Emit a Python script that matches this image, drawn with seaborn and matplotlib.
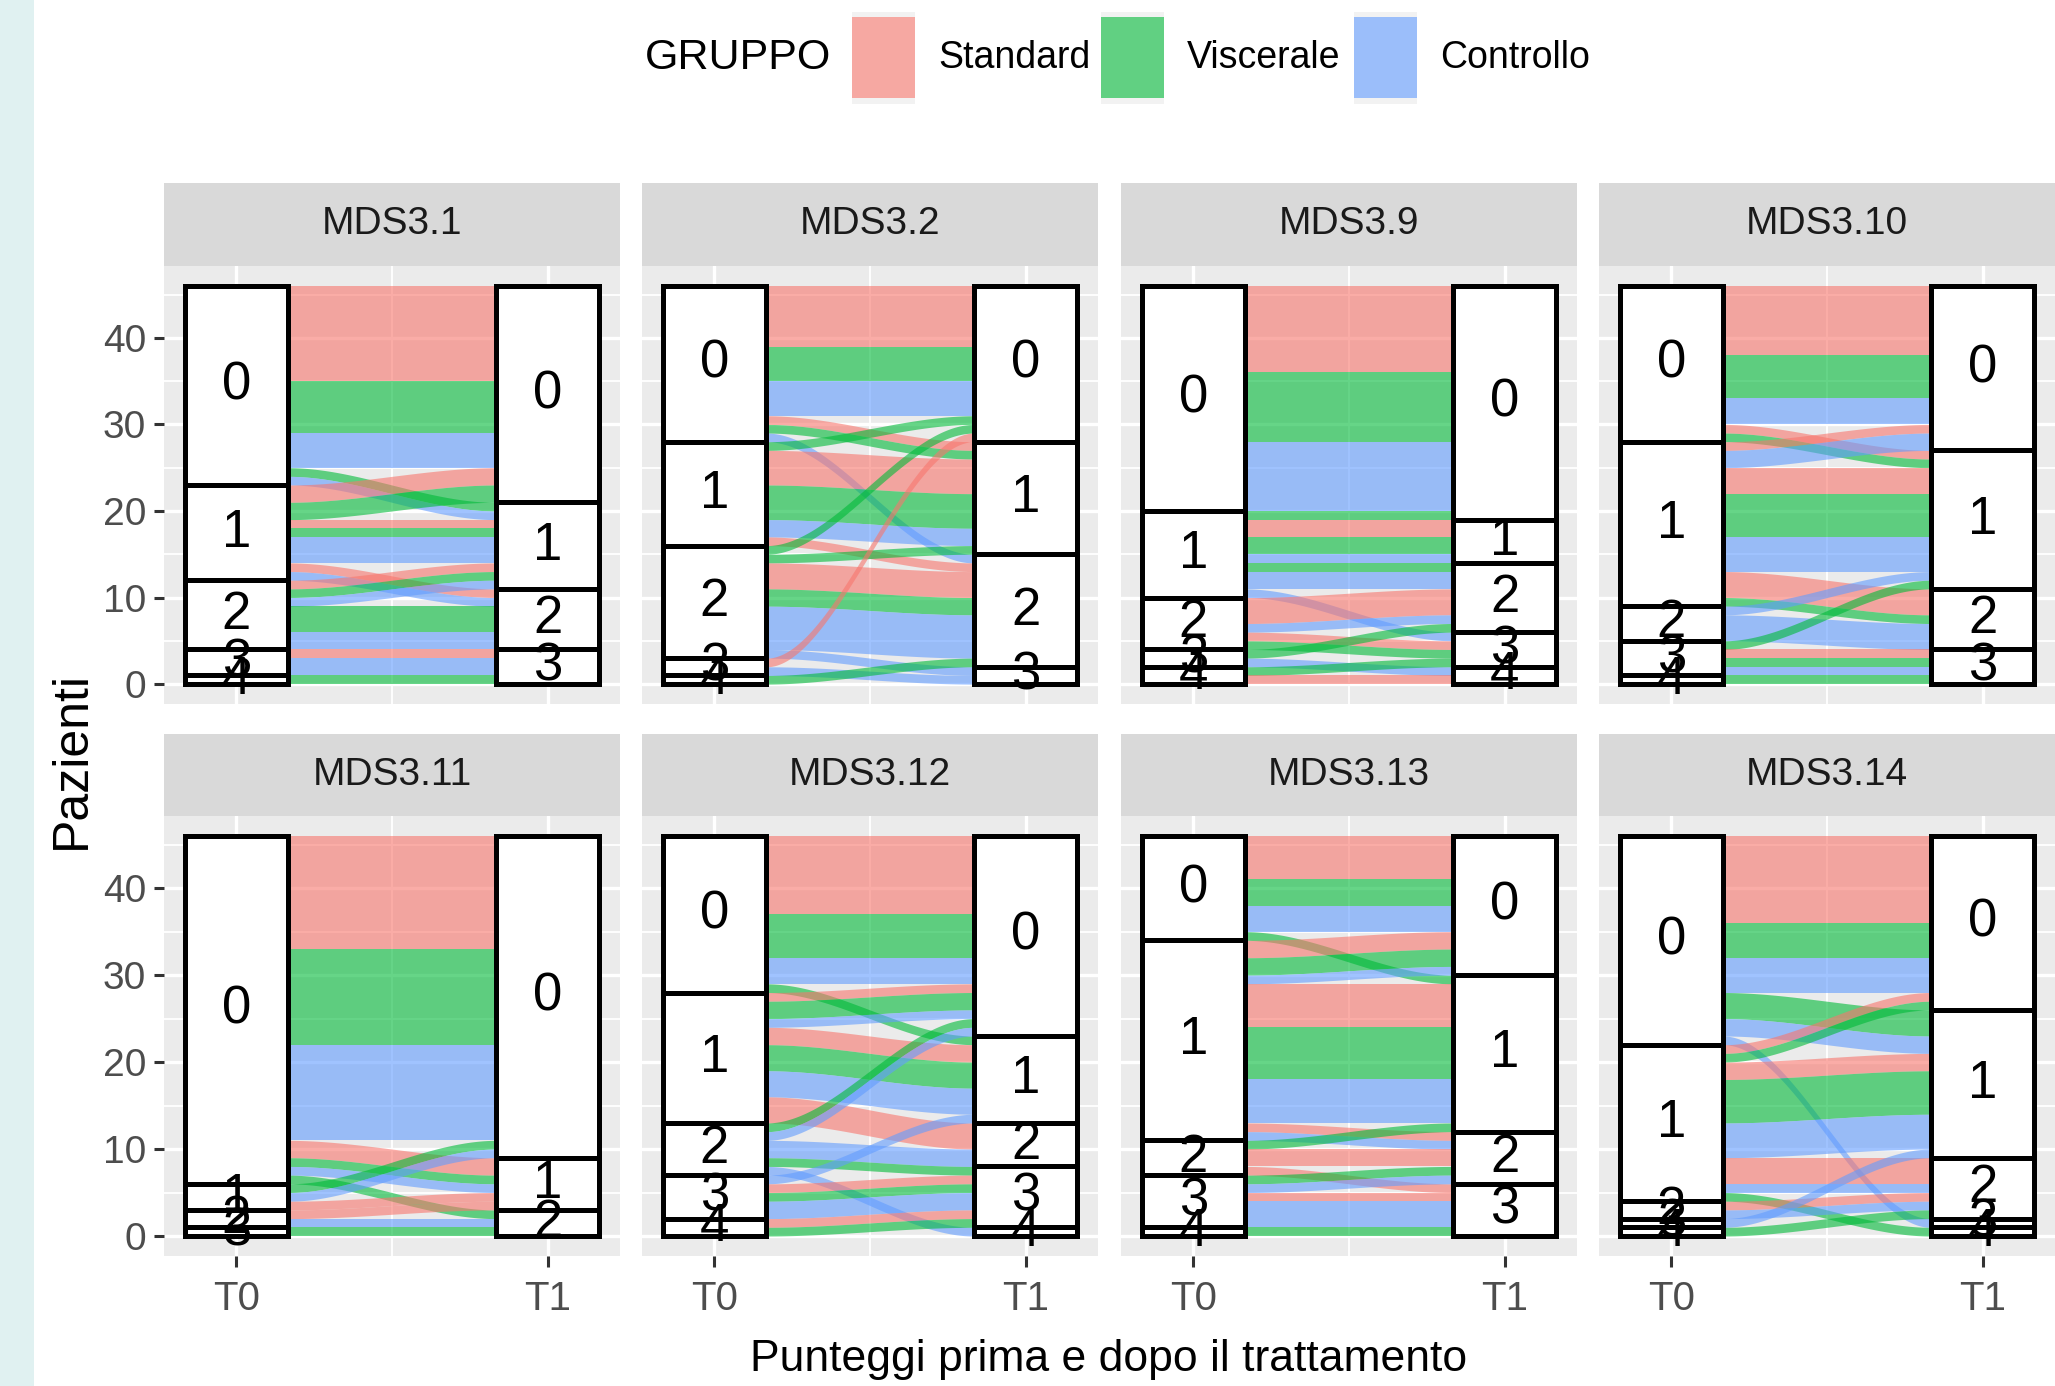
import matplotlib
matplotlib.use("Agg")
import matplotlib.pyplot as plt
from matplotlib.patches import Rectangle
import matplotlib.colors as mcolors
import numpy as np
import seaborn as sns

GROUPS = ["Standard", "Viscerale", "Controllo"]
GROUP_COLORS = ["#F8766D", "#00BA38", "#619CFF"]
TIMES = ["T0", "T1"]
ITEMS = ["MDS3.1", "MDS3.2", "MDS3.9", "MDS3.10",
         "MDS3.11", "MDS3.12", "MDS3.13", "MDS3.14"]

# (gruppo, punteggio T0, punteggio T1, pazienti)
MDS3_1 = [("Standard", 0, 0, 11), ("Viscerale", 0, 0, 6), ("Controllo", 0, 0, 4),
          ("Viscerale", 0, 1, 1), ("Controllo", 0, 1, 1),
          ("Standard", 1, 0, 2), ("Viscerale", 1, 0, 2), ("Standard", 1, 1, 1),
          ("Viscerale", 1, 1, 1), ("Controllo", 1, 1, 3), ("Standard", 1, 2, 1),
          ("Controllo", 1, 2, 1),
          ("Standard", 2, 1, 1), ("Viscerale", 2, 1, 1), ("Controllo", 2, 1, 1),
          ("Viscerale", 2, 2, 3), ("Controllo", 2, 2, 2),
          ("Standard", 3, 3, 1), ("Controllo", 3, 3, 2), ("Viscerale", 4, 3, 1)]
MDS3_2 = [("Standard", 0, 0, 7), ("Viscerale", 0, 0, 4), ("Controllo", 0, 0, 4),
          ("Standard", 0, 1, 1), ("Viscerale", 0, 1, 1), ("Controllo", 0, 2, 1),
          ("Viscerale", 1, 0, 1), ("Standard", 1, 1, 4), ("Viscerale", 1, 1, 4),
          ("Controllo", 1, 1, 2), ("Standard", 1, 2, 1),
          ("Viscerale", 2, 0, 1), ("Viscerale", 2, 1, 1), ("Standard", 2, 2, 3),
          ("Viscerale", 2, 2, 2), ("Controllo", 2, 2, 5), ("Controllo", 2, 3, 1),
          ("Standard", 3, 0, 1), ("Controllo", 3, 3, 1), ("Viscerale", 4, 2, 1)]
MDS3_9 = [("Standard", 0, 0, 10), ("Viscerale", 0, 0, 8), ("Controllo", 0, 0, 8),
          ("Viscerale", 1, 0, 1), ("Standard", 1, 1, 2), ("Viscerale", 1, 1, 2),
          ("Controllo", 1, 1, 1), ("Viscerale", 1, 2, 1), ("Controllo", 1, 2, 2),
          ("Controllo", 1, 3, 1),
          ("Standard", 2, 2, 3), ("Controllo", 2, 2, 1), ("Standard", 2, 3, 1),
          ("Viscerale", 2, 3, 1),
          ("Viscerale", 3, 2, 1), ("Controllo", 3, 4, 1),
          ("Viscerale", 4, 3, 1), ("Standard", 4, 4, 1)]
MDS3_10 = [("Standard", 0, 0, 8), ("Viscerale", 0, 0, 5), ("Controllo", 0, 0, 3),
           ("Standard", 0, 1, 1), ("Viscerale", 0, 1, 1),
           ("Standard", 1, 0, 1), ("Controllo", 1, 0, 2), ("Standard", 1, 1, 3),
           ("Viscerale", 1, 1, 5), ("Controllo", 1, 1, 4), ("Standard", 1, 2, 3),
           ("Viscerale", 1, 2, 1),
           ("Controllo", 2, 1, 1), ("Controllo", 2, 2, 3),
           ("Viscerale", 3, 1, 1), ("Standard", 3, 3, 1), ("Viscerale", 3, 3, 1),
           ("Controllo", 3, 3, 1), ("Viscerale", 4, 3, 1)]
MDS3_11 = [("Standard", 0, 0, 13), ("Viscerale", 0, 0, 11), ("Controllo", 0, 0, 11),
           ("Standard", 0, 1, 2), ("Viscerale", 0, 1, 1), ("Controllo", 0, 1, 1),
           ("Viscerale", 0, 2, 1),
           ("Viscerale", 1, 0, 1), ("Controllo", 1, 0, 1), ("Standard", 1, 1, 1),
           ("Standard", 2, 1, 1), ("Controllo", 2, 2, 1), ("Viscerale", 3, 2, 1)]
MDS3_12 = [("Standard", 0, 0, 9), ("Viscerale", 0, 0, 5), ("Controllo", 0, 0, 3),
           ("Viscerale", 0, 1, 1),
           ("Standard", 1, 0, 1), ("Viscerale", 1, 0, 2), ("Controllo", 1, 0, 1),
           ("Standard", 1, 1, 2), ("Viscerale", 1, 1, 3), ("Controllo", 1, 1, 3),
           ("Standard", 1, 2, 3),
           ("Viscerale", 2, 0, 1), ("Controllo", 2, 0, 1), ("Controllo", 2, 2, 2),
           ("Viscerale", 2, 3, 1), ("Controllo", 2, 4, 1),
           ("Controllo", 3, 1, 1), ("Standard", 3, 3, 1), ("Viscerale", 3, 3, 1),
           ("Controllo", 3, 3, 2),
           ("Standard", 4, 3, 1), ("Viscerale", 4, 3, 1)]
MDS3_13 = [("Standard", 0, 0, 5), ("Viscerale", 0, 0, 3), ("Controllo", 0, 0, 3),
           ("Viscerale", 0, 1, 1),
           ("Standard", 1, 0, 2), ("Viscerale", 1, 0, 2), ("Controllo", 1, 0, 1),
           ("Standard", 1, 1, 5), ("Viscerale", 1, 1, 6), ("Controllo", 1, 1, 5),
           ("Standard", 1, 2, 1), ("Controllo", 1, 2, 1),
           ("Viscerale", 2, 1, 1), ("Standard", 2, 2, 2), ("Standard", 2, 3, 1),
           ("Viscerale", 3, 2, 1), ("Controllo", 3, 2, 1), ("Standard", 3, 3, 1),
           ("Controllo", 3, 3, 3),
           ("Viscerale", 4, 3, 1)]
MDS3_14 = [("Standard", 0, 0, 10), ("Viscerale", 0, 0, 4), ("Controllo", 0, 0, 4),
           ("Viscerale", 0, 1, 3), ("Controllo", 0, 1, 2), ("Controllo", 0, 3, 1),
           ("Standard", 1, 0, 1), ("Viscerale", 1, 0, 1), ("Standard", 1, 1, 2),
           ("Viscerale", 1, 1, 5), ("Controllo", 1, 1, 4), ("Standard", 1, 2, 3),
           ("Controllo", 1, 2, 1), ("Viscerale", 1, 4, 1),
           ("Standard", 2, 2, 1), ("Controllo", 2, 2, 1),
           ("Controllo", 3, 1, 1), ("Viscerale", 4, 2, 1)]

FLOWS = dict(zip(ITEMS, [MDS3_1, MDS3_2, MDS3_9, MDS3_10,
                         MDS3_11, MDS3_12, MDS3_13, MDS3_14]))

W, H = 2055, 1386
STRATUM_W = 1 / 3
ALPHA = 0.6


def fig_rect(x, y, w, h):
    # pixel box measured from the top-left corner -> figure fraction
    return [x / W, 1 - (y + h) / H, w / W, h / H]


def stack(flows):
    """ggalluvial-like stacking: score 0 on top, lodes ordered by the
    other axis first and then by group."""
    gi = {g: i for i, g in enumerate(GROUPS)}
    total = sum(f[3] for f in flows)
    lodes, strata = {}, {0: [], 1: []}
    for side in (0, 1):
        top = total
        for s in sorted(set(f[1 + side] for f in flows)):
            members = sorted([f for f in flows if f[1 + side] == s],
                             key=lambda f: (f[2 - side], gi[f[0]]))
            n_s = sum(f[3] for f in members)
            strata[side].append((s, top - n_s, n_s))
            y = top
            for f in members:
                lodes[(side, f)] = (y - f[3], y)
                y -= f[3]
            top -= n_s
    return lodes, strata


def draw_alluvial(ax, flows, palette):
    lodes, strata = stack(flows)
    x0, x1 = 1 + STRATUM_W / 2, 2 - STRATUM_W / 2
    xs = np.linspace(x0, x1, 120)
    t = (xs - x0) / (x1 - x0)
    s = t * t * (3 - 2 * t)
    for f in flows:
        lo0, hi0 = lodes[(0, f)]
        lo1, hi1 = lodes[(1, f)]
        ax.fill_between(xs, lo0 + (lo1 - lo0) * s, hi0 + (hi1 - hi0) * s,
                        color=palette[f[0]], alpha=ALPHA, lw=0, zorder=2)
    for side, x in ((0, 1), (1, 2)):
        for score, bottom, n in strata[side]:
            ax.bar(x, n, bottom=bottom, width=STRATUM_W, facecolor="white",
                   edgecolor="black", linewidth=3.6, zorder=3)
            ax.text(x, bottom + n / 2, str(score), ha="center", va="center",
                    fontsize=38, color="black", zorder=4)


sns.set_theme(style="darkgrid")
plt.rcParams["font.family"] = ["Liberation Sans", "DejaVu Sans"]
palette = dict(zip(GROUPS, sns.color_palette(GROUP_COLORS)))

fig = plt.figure(figsize=(W / 100, H / 100), dpi=100, facecolor="white")
fig.patches.append(Rectangle((0, 0), 34 / W, 1, transform=fig.transFigure,
                             facecolor="#E0F1F1", edgecolor="none"))

col_x = [164, 642, 1121, 1599]
rows = [(183, 266, 438), (734, 816, 440)]  # strip top, panel top, panel height

for k, item in enumerate(ITEMS):
    r, c = divmod(k, 4)
    strip_top, panel_top, panel_h = rows[r]

    sax = fig.add_axes(fig_rect(col_x[c], strip_top, 456, panel_top - strip_top))
    sax.set_facecolor("#D9D9D9")
    sax.set_xticks([])
    sax.set_yticks([])
    for sp in sax.spines.values():
        sp.set_visible(False)
    sax.text(0.5, 0.5, item, ha="center", va="center", fontsize=28,
             color="#1A1A1A", transform=sax.transAxes)

    ax = fig.add_axes(fig_rect(col_x[c], panel_top, 456, panel_h))
    ax.set_facecolor("#EBEBEB")
    ax.set_xlim(0.767, 2.233)
    ax.set_ylim(-2.3, 48.3)
    ax.set_xticks([1, 2])
    ax.set_xticks([1.5], minor=True)
    ax.set_yticks([0, 10, 20, 30, 40])
    ax.set_yticks([5, 15, 25, 35, 45], minor=True)
    ax.grid(which="major", color="white", linewidth=2.4)
    ax.grid(which="minor", color="white", linewidth=1.3)
    ax.set_axisbelow(True)
    for sp in ax.spines.values():
        sp.set_visible(False)

    draw_alluvial(ax, FLOWS[item], palette)

    ax.tick_params(which="minor", length=0)
    ax.tick_params(axis="y", length=7, width=2.2, color="#333333", pad=6,
                   labelsize=28, labelcolor="#4D4D4D", left=(c == 0),
                   labelleft=(c == 0))
    ax.tick_params(axis="x", length=8, width=2.2, color="#333333", pad=9,
                   labelsize=29, labelcolor="#4D4D4D", bottom=(r == 1),
                   labelbottom=(r == 1))
    ax.set_xticklabels(TIMES)

fig.text(1109 / W, 1 - 1359 / H, "Punteggi prima e dopo il trattamento",
         ha="center", va="center", fontsize=32, color="black")
fig.text(72 / W, 1 - 760 / H, "Pazienti", ha="center", va="center",
         rotation=90, fontsize=36, color="black")

# legend on top: title on the left, then three keys with their labels
bg = np.array(mcolors.to_rgb("#F2F2F2"))
fig.text(645 / W, 1 - 58 / H, "GRUPPO", ha="left", va="center",
         fontsize=31, color="black")
key_x = [852, 1101, 1354]
for g, kx in zip(GROUPS, key_x):
    fig.patches.append(Rectangle((kx / W, 1 - 104 / H), 63 / W, 92 / H,
                                 transform=fig.transFigure,
                                 facecolor="#F2F2F2", edgecolor="none"))
    key_col = ALPHA * np.array(palette[g]) + (1 - ALPHA) * bg
    fig.patches.append(Rectangle((kx / W, 1 - 98 / H), 63 / W, 81 / H,
                                 transform=fig.transFigure,
                                 facecolor=key_col, edgecolor="none"))
    fig.text((kx + 86) / W, 1 - 58 / H, g, ha="left", va="center",
             fontsize=27, color="black")

fig.savefig("out.png", dpi=100, facecolor="white")
